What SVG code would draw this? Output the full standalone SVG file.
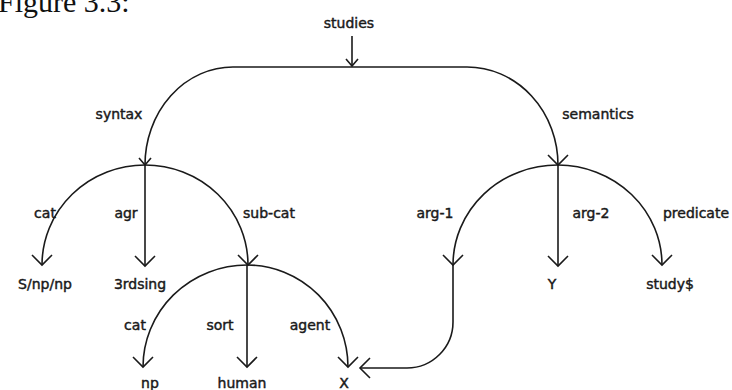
<svg xmlns="http://www.w3.org/2000/svg" width="732" height="390" viewBox="0 0 732 390">
<style>
.t{font-family:"DejaVu Sans","Liberation Sans",sans-serif;font-size:14px;fill:#1a1a1a;stroke:#1a1a1a;stroke-width:0.45;text-anchor:middle}
.e{fill:none;stroke:#1a1a1a;stroke-width:1.6}
.title{font-family:"Liberation Serif",serif;font-size:30px;fill:#111}
</style>
<defs>
<marker id="ah" markerUnits="userSpaceOnUse" viewBox="-12 -12 14 24" markerWidth="14" markerHeight="24" refX="0" refY="0" orient="auto" overflow="visible">
<path d="M-10,-10 L0,0 L-10,10" fill="none" stroke="#1a1a1a" stroke-width="1.6"/>
</marker>
<marker id="ahs" markerUnits="userSpaceOnUse" viewBox="-8 -8 10 16" markerWidth="10" markerHeight="16" refX="0" refY="0" orient="auto" overflow="visible">
<path d="M-7,-6 L0,0 L-7,6" fill="none" stroke="#1a1a1a" stroke-width="1.6"/>
</marker>
</defs>
<rect width="732" height="390" fill="#fff"/>
<text class="title" x="-2" y="12">Figure 3.3:</text>
<g id="connectors">
<path class="e" d="M352,36 L352,66" marker-end="url(#ahs)"/>
<path class="e" d="M352,67 L233,67 A88,98 0 0 0 145,165" marker-end="url(#ahs)"/>
<path class="e" d="M352,67 L467,67 A91,98 0 0 1 558,165" marker-end="url(#ah)"/>
<path class="e" d="M145,165 A103,100 0 0 0 42,265" marker-end="url(#ah)"/>
<path class="e" d="M145,165 L145,266" marker-end="url(#ah)"/>
<path class="e" d="M145,165 A103,100 0 0 1 248,265" marker-end="url(#ah)"/>
<path class="e" d="M558,165 A104.5,100 0 0 0 453,265" marker-end="url(#ah)"/>
<path class="e" d="M558,165 L558,266" marker-end="url(#ah)"/>
<path class="e" d="M558,165 A104.5,100 0 0 1 662,265" marker-end="url(#ah)"/>
<path class="e" d="M247,265 A104,102 0 0 0 143,367" marker-end="url(#ah)"/>
<path class="e" d="M247,265 L247,367" marker-end="url(#ah)"/>
<path class="e" d="M247,265 A101,102 0 0 1 348,367" marker-end="url(#ah)"/>
<path class="e" d="M453,265 L453,322 A46,46 0 0 1 407,368 L360,368" marker-end="url(#ah)"/>
</g>
<g id="labels">
<text class="t" x="119" y="119">syntax</text>
<text class="t" x="598" y="119">semantics</text>
<text class="t" x="45" y="218">cat</text>
<text class="t" x="126" y="218">agr</text>
<text class="t" x="269" y="218">sub-cat</text>
<text class="t" x="435" y="218">arg-1</text>
<text class="t" x="591" y="218">arg-2</text>
<text class="t" x="696" y="218">predicate</text>
<text class="t" x="135" y="330">cat</text>
<text class="t" x="220" y="330">sort</text>
<text class="t" x="310" y="330">agent</text>
</g>
<g id="n-studies"><text class="t" x="349" y="28">studies</text></g>
<g id="n-snpnp"><text class="t" x="45" y="289">S/np/np</text></g>
<g id="n-3rdsing"><text class="t" x="140" y="289">3rdsing</text></g>
<g id="n-Y"><text class="t" x="552" y="289">Y</text></g>
<g id="n-study"><text class="t" x="670" y="289">study$</text></g>
<g id="n-np"><text class="t" x="150" y="388">np</text></g>
<g id="n-human"><text class="t" x="242" y="388">human</text></g>
<g id="n-X"><text class="t" x="344" y="388">X</text></g>
</svg>
